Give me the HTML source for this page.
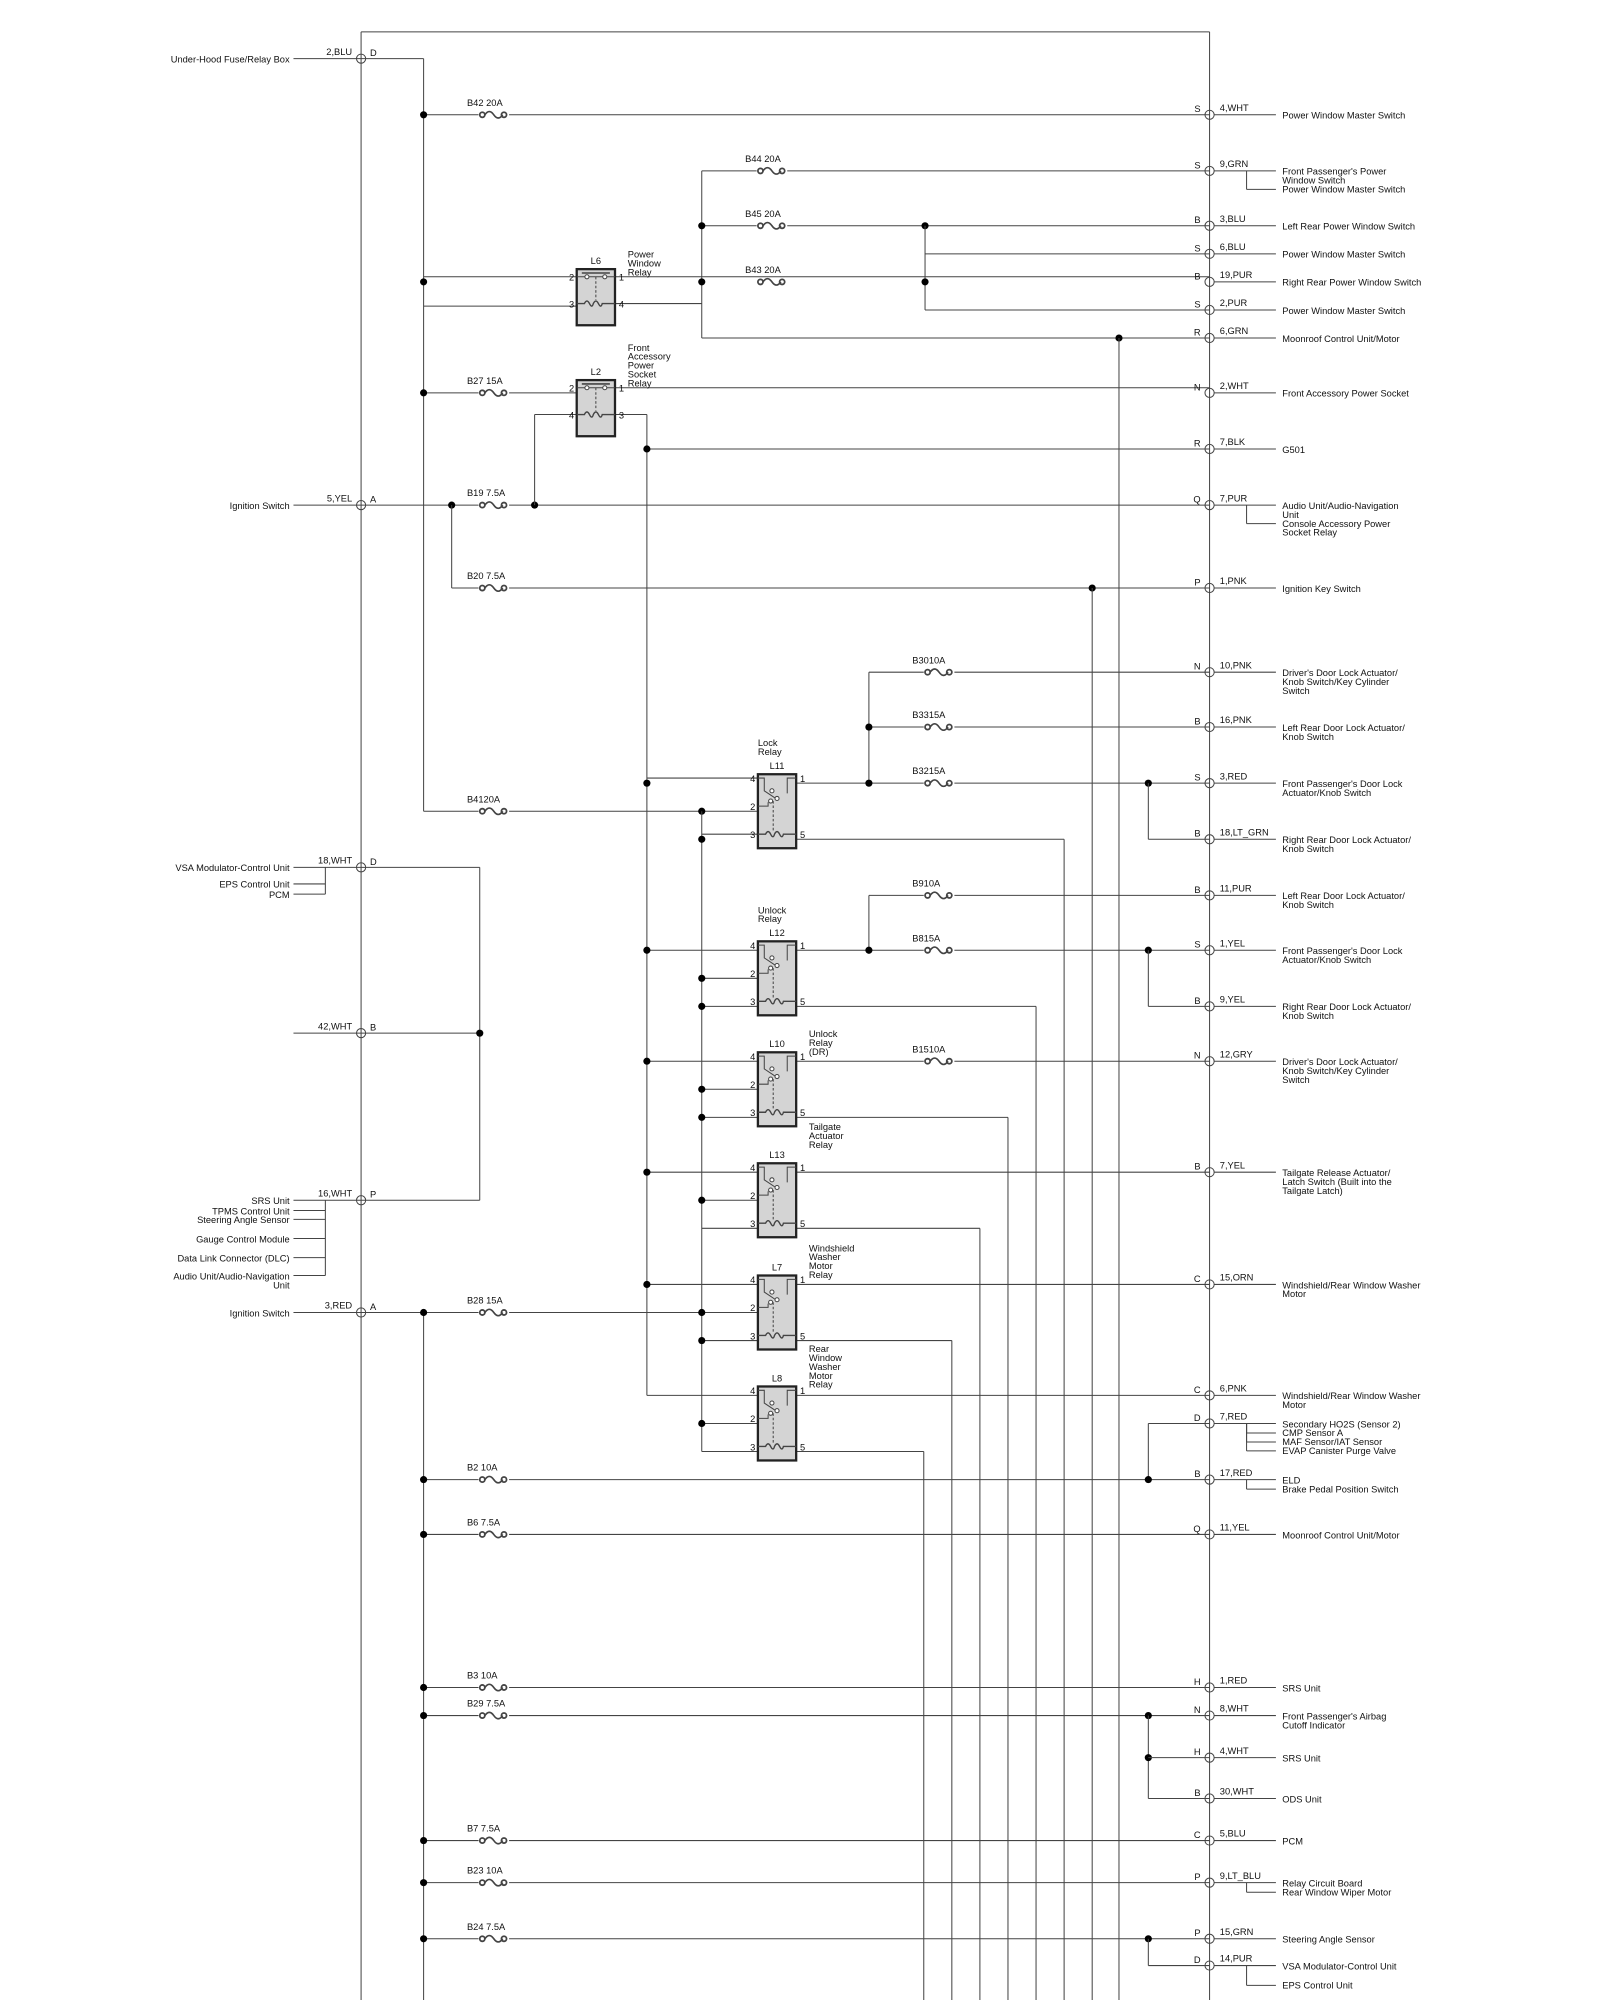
<!DOCTYPE html>
<html><head><meta charset="utf-8"><style>
html,body{margin:0;padding:0;background:#fff}
svg{display:block}
text{font-family:"Liberation Sans",sans-serif;font-size:7.3px;fill:#111}
</style></head><body>
<svg id="s" width="1600" height="2000" viewBox="0 0 1254 1568" preserveAspectRatio="none" xmlns="http://www.w3.org/2000/svg">
<g id="g" stroke="#444" stroke-width="0.8" fill="none"></g>
<g id="t"></g>
</svg>
<script>
var G=document.getElementById('g'),T=document.getElementById('t'),NS='http://www.w3.org/2000/svg';
function el(p,n,a,txt){var e=document.createElementNS(NS,n);for(var k in a)e.setAttribute(k,a[k]);if(txt!==undefined)e.textContent=txt;p.appendChild(e);return e;}
function L(x1,y1,x2,y2){el(G,'line',{x1:x1,y1:y1,x2:x2,y2:y2});}
function D(x,y){el(G,'circle',{cx:x,cy:y,r:2.8,fill:'#000',stroke:'none'});}
function tx(x,y,s,anc){el(T,'text',{x:x,y:y,'text-anchor':anc||'start'},s);}
function conn(x,y){el(G,'circle',{cx:x,cy:y,r:3.6,fill:'#fff'});L(x,y-3.6,x,y+3.6);}
function fuse(x,y,lab){
 el(G,'rect',{x:x-1,y:y-3,width:24,height:6,fill:'#fff',stroke:'none'});
 el(G,'circle',{cx:x+2,cy:y,r:2,fill:'#fff','stroke-width':1.4});
 el(G,'circle',{cx:x+19,cy:y,r:2,fill:'#fff','stroke-width':1.4});
 el(G,'path',{d:'M'+(x+4)+' '+y+' q3.5 -5 7 0 q3.5 5 7 0','stroke-width':1.3});
 tx(x-10,y-7,lab);
}
L(283,25,948,25);L(283,25,283,1568);L(948,25,948,1568);
var R=[[90,'S','4,WHT',["Power Window Master Switch"]],
[134,'S','9,GRN',["Front Passenger's Power","Window Switch","Power Window Master Switch"],[0,2]],
[177,'B','3,BLU',["Left Rear Power Window Switch"]],
[199,'S','6,BLU',["Power Window Master Switch"]],
[221,'B','19,PUR',["Right Rear Power Window Switch"]],
[243,'S','2,PUR',["Power Window Master Switch"]],
[265,'R','6,GRN',["Moonroof Control Unit/Motor"]],
[308,'N','2,WHT',["Front Accessory Power Socket"]],
[352,'R','7,BLK',["G501"]],
[396,'Q','7,PUR',["Audio Unit/Audio-Navigation","Unit","Console Accessory Power","Socket Relay"],[0,2]],
[461,'P','1,PNK',["Ignition Key Switch"]],
[527,'N','10,PNK',["Driver's Door Lock Actuator/","Knob Switch/Key Cylinder","Switch"]],
[570,'B','16,PNK',["Left Rear Door Lock Actuator/","Knob Switch"]],
[614,'S','3,RED',["Front Passenger's Door Lock","Actuator/Knob Switch"]],
[658,'B','18,LT_GRN',["Right Rear Door Lock Actuator/","Knob Switch"]],
[702,'B','11,PUR',["Left Rear Door Lock Actuator/","Knob Switch"]],
[745,'S','1,YEL',["Front Passenger's Door Lock","Actuator/Knob Switch"]],
[789,'B','9,YEL',["Right Rear Door Lock Actuator/","Knob Switch"]],
[832,'N','12,GRY',["Driver's Door Lock Actuator/","Knob Switch/Key Cylinder","Switch"]],
[919,'B','7,YEL',["Tailgate Release Actuator/","Latch Switch (Built into the","Tailgate Latch)"]],
[1007,'C','15,ORN',["Windshield/Rear Window Washer","Motor"]],
[1094,'C','6,PNK',["Windshield/Rear Window Washer","Motor"]],
[1116,'D','7,RED',["Secondary HO2S (Sensor 2)","CMP Sensor A","MAF Sensor/IAT Sensor","EVAP Canister Purge Valve"],[0,1,2,3]],
[1160,'B','17,RED',["ELD","Brake Pedal Position Switch"],[0,1]],
[1203,'Q','11,YEL',["Moonroof Control Unit/Motor"]],
[1323,'H','1,RED',["SRS Unit"]],
[1345,'N','8,WHT',["Front Passenger's Airbag","Cutoff Indicator"]],
[1378,'H','4,WHT',["SRS Unit"]],
[1410,'B','30,WHT',["ODS Unit"]],
[1443,'C','5,BLU',["PCM"]],
[1476,'P','9,LT_BLU',["Relay Circuit Board","Rear Window Wiper Motor"],[0,1]],
[1520,'P','15,GRN',["Steering Angle Sensor"]],
[1541,'D','14,PUR',["VSA Modulator-Control Unit","EPS Control Unit"],[0,'x']]];
R.forEach(function(r){var y=r[0];L(948,y,1000,y);conn(948,y);tx(941,y-2,r[1],'end');tx(956,y-3,r[2]);
 var br=r[4];
 r[3].forEach(function(s,i){var yy=y+3+i*7;if(br&&br[1]==='x'&&i==1)yy=y+18;
  tx(1005,yy,s);
  if(br&&i>0&&(br[1]==='x'||br.indexOf(i)>=0)){L(977,y,977,yy-2.5);L(977,yy-2.5,1000,yy-2.5);} });
});
function lc(y,w,p,lab){conn(283,y);tx(276,y-3,w,'end');tx(290,y-2,p);L(230,y,283,y);if(lab)tx(227,y+3,lab,'end');}
lc(46,'2,BLU','D','Under-Hood Fuse/Relay Box');
lc(396,'5,YEL','A','Ignition Switch');
lc(680,'18,WHT','D','VSA Modulator-Control Unit');
lc(810,'42,WHT','B');
lc(941,'16,WHT','P','SRS Unit');
lc(1029,'3,RED','A','Ignition Switch');
tx(227,696,'EPS Control Unit','end');tx(227,704,'PCM','end');
L(255,680,255,701);L(230,693,255,693);L(230,701,255,701);
[["TPMS Control Unit",949],["Steering Angle Sensor",956],["Gauge Control Module",971],["Data Link Connector (DLC)",986],["Audio Unit/Audio-Navigation",1000]].forEach(function(a){tx(227,a[1]+3,a[0],'end');L(230,a[1],255,a[1]);});
tx(227,1010,'Unit','end');
L(255,941,255,1000);
L(283,680,376,680);L(376,680,376,941);L(283,810,376,810);L(283,941,376,941);D(376,810);
L(283,46,332,46);L(332,46,332,636);
L(332,1029,332,1568);
function hw(x1,y,x2){L(x1,y,x2,y);}
hw(332,90,948);fuse(376,90,'B42 20A');D(332,90);
L(550,134,550,265);hw(550,134,948);fuse(594,134,'B44 20A');
hw(550,177,948);fuse(594,177,'B45 20A');D(550,177);D(725,177);
L(725,177,725,243);hw(725,199,948);hw(725,243,948);
hw(332,217,452);hw(482,217,948);fuse(594,221,'B43 20A');D(332,221);D(550,221);D(725,221);
hw(332,240,452);hw(482,238,550);
hw(550,265,948);D(877,265);L(877,265,877,1568);
hw(332,308,452);hw(482,304,948);fuse(376,308,'B27 15A');D(332,308);
hw(482,325,507);L(507,325,507,1094);hw(507,352,948);D(507,352);
hw(283,396,948);fuse(376,396,'B19 7.5A');D(354,396);D(419,396);L(419,325,419,396);hw(419,325,452);
L(354,396,354,461);hw(354,461,948);fuse(376,461,'B20 7.5A');D(856,461);L(856,461,856,1568);
L(681,527,681,614);hw(681,527,948);fuse(725,527,'B3010A');hw(681,570,948);fuse(725,570,'B3315A');D(681,570);
hw(507,610,594);D(507,614);hw(624,614,948);fuse(725,614,'B3215A');D(681,614);D(900,614);L(900,614,900,658);hw(900,658,948);
hw(332,636,594);fuse(376,636,'B4120A');D(550,636);L(550,636,550,1138);
hw(550,654,594);D(550,658);hw(624,658,834);L(834,658,834,1568);
L(681,702,681,745);hw(681,702,948);fuse(725,702,'B910A');
hw(507,745,594);D(507,745);hw(624,745,948);fuse(725,745,'B815A');D(681,745);D(900,745);L(900,745,900,789);hw(900,789,948);
hw(550,767,594);D(550,767);hw(550,789,594);D(550,789);hw(624,789,812);L(812,789,812,1568);
hw(507,832,594);D(507,832);hw(624,832,948);fuse(725,832,'B1510A');
hw(550,854,594);D(550,854);hw(550,876,594);D(550,876);hw(624,876,790);L(790,876,790,1568);
hw(507,919,594);D(507,919);hw(624,919,948);
hw(550,941,594);D(550,941);hw(550,963,594);hw(624,963,768);L(768,963,768,1568);
hw(507,1007,594);D(507,1007);hw(624,1007,948);
hw(283,1029,594);fuse(376,1029,'B28 15A');D(332,1029);D(550,1029);
hw(550,1051,594);D(550,1051);hw(624,1051,746);L(746,1051,746,1568);
hw(507,1094,594);hw(624,1094,948);
hw(550,1116,594);D(550,1116);hw(550,1138,594);hw(624,1138,724);L(724,1138,724,1568);
L(900,1116,900,1160);hw(900,1116,948);
hw(332,1160,948);fuse(376,1160,'B2 10A');D(332,1160);D(900,1160);
hw(332,1203,948);fuse(376,1203,'B6 7.5A');D(332,1203);
hw(332,1323,948);fuse(376,1323,'B3 10A');D(332,1323);
hw(332,1345,948);fuse(376,1345,'B29 7.5A');D(332,1345);D(900,1345);L(900,1345,900,1410);D(900,1378);hw(900,1378,948);hw(900,1410,948);
hw(332,1443,948);fuse(376,1443,'B7 7.5A');D(332,1443);
hw(332,1476,948);fuse(376,1476,'B23 10A');D(332,1476);
hw(332,1520,948);fuse(376,1520,'B24 7.5A');D(332,1520);D(900,1520);L(900,1520,900,1541);hw(900,1541,948);
function relay2(x,y,name,pins,lab){
 el(G,'rect',{x:x,y:y,width:30,height:44,fill:'#d4d4d4',stroke:'#222','stroke-width':1.8});
 tx(x+15,y-4,name,'middle');
 tx(x-2,y+9,pins[0],'end');tx(x+33,y+9,pins[1]);tx(x-2,y+30,pins[2],'end');tx(x+33,y+30,pins[3]);
 L(x,y+6,x+30,y+6);el(G,'line',{x1:x+4,y1:y+3,x2:x+26,y2:y+3,'stroke-width':1.2});
 el(G,'circle',{cx:x+8,cy:y+6,r:1.6,fill:'#fff'});el(G,'circle',{cx:x+22,cy:y+6,r:1.6,fill:'#fff'});
 el(G,'line',{x1:x+15,y1:y+6,x2:x+15,y2:y+24,'stroke-dasharray':'2,1.5'});
 el(G,'path',{d:'M'+x+' '+(y+27)+' h6 q2 -4 4 0 q2 4 3 0 q2 -4 4 0 q2 4 3 0 h10','stroke-width':1.1});
 lab.forEach(function(s,i){tx(x+40,y-9+i*7-(lab.length-3)*7,s);});
}
relay2(452,211,'L6',['2','1','3','4'],['Power','Window','Relay']);
relay2(452,298,'L2',['2','1','4','3'],['Front','Accessory','Power','Socket','Relay']);
function relay5(x,y,name,lab,lx,ly){
 el(G,'rect',{x:x,y:y,width:30,height:58,fill:'#d4d4d4',stroke:'#222','stroke-width':1.8});
 tx(x+15,y-4,name,'middle');
 tx(x-2,y+6,'4','end');tx(x+33,y+6,'1');tx(x-2,y+28,'2','end');tx(x+33,y+50,'5');tx(x-2,y+50,'3','end');
 el(G,'path',{d:'M'+x+' '+(y+3)+' h5 v10 l9 6 M'+(x+30)+' '+(y+3)+' h-7 v12'});
 el(G,'circle',{cx:x+11,cy:y+13,r:1.6,fill:'#fff'});el(G,'circle',{cx:x+15,cy:y+19,r:1.6,fill:'#fff'});
 el(G,'path',{d:'M'+x+' '+(y+25)+' h8 v-3'});el(G,'circle',{cx:x+10,cy:y+21,r:1.6,fill:'#fff'});
 el(G,'line',{x1:x+12,y1:y+21,x2:x+12,y2:y+44,'stroke-dasharray':'2,1.5'});
 el(G,'path',{d:'M'+x+' '+(y+47)+' h6 q2 -4 4 0 q2 4 3 0 q2 -4 4 0 q2 4 3 0 h10','stroke-width':1.1});
 lab.forEach(function(s,i){tx(lx,ly+i*7,s);});
}
relay5(594,607,'L11',['Lock','Relay'],594,585);
relay5(594,738,'L12',['Unlock','Relay'],594,716);
relay5(594,825,'L10',['Unlock','Relay','(DR)'],634,813);
relay5(594,912,'L13',['Tailgate','Actuator','Relay'],634,886);
relay5(594,1000,'L7',['Windshield','Washer','Motor','Relay'],634,981);
relay5(594,1087,'L8',['Rear','Window','Washer','Motor','Relay'],634,1060);
</script>
</body></html>
